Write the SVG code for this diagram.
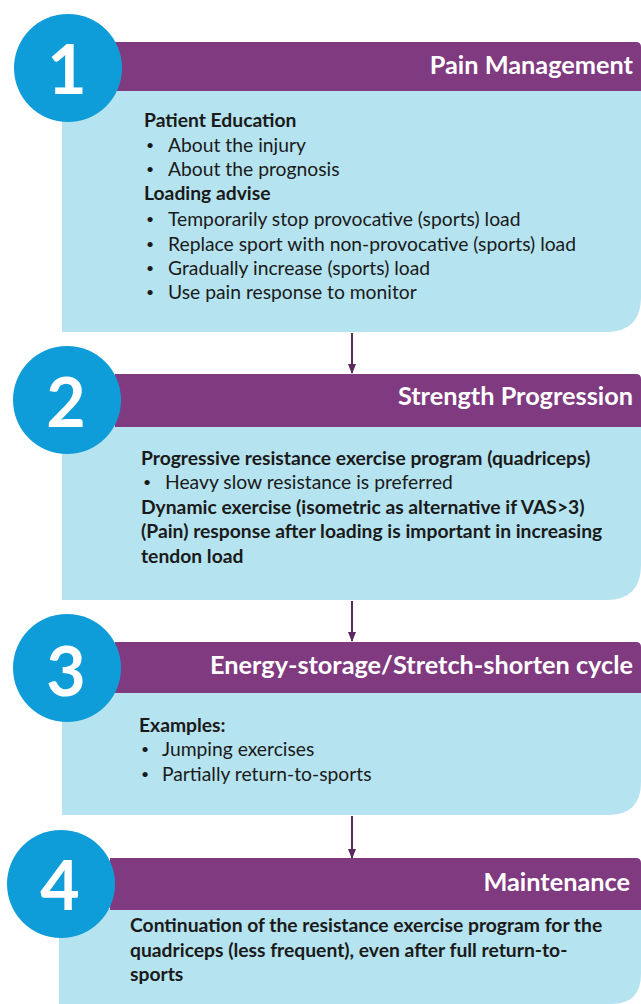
<svg xmlns="http://www.w3.org/2000/svg" width="641" height="1004" viewBox="0 0 641 1004">
<defs>
<style>
.bar{fill:#803A80}
.box{fill:#B5E3EF}
.circ{fill:#0F9DD9}
.num{font-family:Lato,"Open Sans",sans-serif;font-weight:bold;font-size:68px;fill:#fff;text-anchor:middle}
.ttl{font-family:Lato,"Open Sans",sans-serif;font-weight:bold;font-size:25.3px;fill:#fff;text-anchor:end}
.t{font-family:Lato,"Open Sans",sans-serif;font-size:19.3px;fill:#1a1a1a}
.b{font-family:Lato,"Open Sans",sans-serif;font-size:19.3px;fill:#1a1a1a;font-weight:bold}
.d{font-family:Lato,"Open Sans",sans-serif;font-size:14px;fill:#1a1a1a}
.con{stroke:#5A2A5C;stroke-width:2;fill:none;marker-end:url(#ah)}
</style>
<marker id="ah" viewBox="0 0 10 10" refX="9" refY="5" markerWidth="5" markerHeight="5" orient="auto">
<path d="M0,1 L10,5 L0,9 z" fill="#5A2A5C"/>
</marker>
</defs>
<rect width="641" height="1004" fill="#fff"/>

<g id="connectors">
<line class="con" x1="352" y1="333" x2="352" y2="373"/>
<line class="con" x1="352" y1="601" x2="352" y2="641"/>
<line class="con" x1="352" y1="816" x2="352" y2="858"/>
</g>

<g id="step1">
<path class="box" d="M62,90 H641 V297 Q641,332 606,332 H62 Z"/>
<path class="bar" d="M115,42 H636 Q641,42 641,47 V91 H115 Z"/>
<circle class="circ" cx="68" cy="68" r="54"/>
<text class="num" x="67" y="94">1</text>
<text class="ttl" x="633" y="74">Pain Management</text>
<text class="b" x="144" y="127">Patient Education</text>
<text class="d" x="146" y="150">•</text><text class="t" x="168" y="152">About the injury</text>
<text class="d" x="146" y="174">•</text><text class="t" x="168" y="176">About the prognosis</text>
<text class="b" x="144" y="200">Loading advise</text>
<text class="d" x="146" y="224">•</text><text class="t" x="168" y="226">Temporarily stop provocative (sports) load</text>
<text class="d" x="146" y="249">•</text><text class="t" x="168" y="251">Replace sport with non-provocative (sports) load</text>
<text class="d" x="146" y="273">•</text><text class="t" x="168" y="275">Gradually increase (sports) load</text>
<text class="d" x="146" y="297">•</text><text class="t" x="168" y="299">Use pain response to monitor</text>
</g>

<g id="step2">
<path class="box" d="M62,426 H641 V565 Q641,600 606,600 H62 Z"/>
<path class="bar" d="M115,374 H636 Q641,374 641,379 V427 H115 Z"/>
<circle class="circ" cx="67" cy="400" r="54"/>
<text class="num" x="66" y="427">2</text>
<text class="ttl" x="633" y="405">Strength Progression</text>
<text class="b" x="141" y="465">Progressive resistance exercise program (quadriceps)</text>
<text class="d" x="143" y="487">•</text><text class="t" x="165" y="489">Heavy slow resistance is preferred</text>
<text class="b" x="141" y="514">Dynamic exercise (isometric as alternative if VAS&gt;3)</text>
<text class="b" x="141" y="538">(Pain) response after loading is important in increasing</text>
<text class="b" x="141" y="563">tendon load</text>
</g>

<g id="step3">
<path class="box" d="M62,692 H641 V782 Q641,815 608,815 H62 Z"/>
<path class="bar" d="M115,642 H636 Q641,642 641,647 V693 H115 Z"/>
<circle class="circ" cx="67" cy="668" r="54"/>
<text class="num" x="66" y="696">3</text>
<text class="ttl" x="633" y="674">Energy-storage/Stretch-shorten cycle</text>
<text class="b" x="139" y="732">Examples:</text>
<text class="d" x="141" y="754">•</text><text class="t" x="162" y="756">Jumping exercises</text>
<text class="d" x="141" y="779">•</text><text class="t" x="162" y="781">Partially return-to-sports</text>
</g>

<g id="step4">
<path class="box" d="M59,909 H641 V974 Q641,1004 611,1004 H59 Z"/>
<path class="bar" d="M110,858 H636 Q641,858 641,863 V910 H110 Z"/>
<circle class="circ" cx="61" cy="884" r="54"/>
<text class="num" x="60" y="910">4</text>
<text class="ttl" x="630" y="891">Maintenance</text>
<text class="b" x="130" y="932">Continuation of the resistance exercise program for the</text>
<text class="b" x="130" y="957">quadriceps (less frequent), even after full return-to-</text>
<text class="b" x="130" y="981">sports</text>
</g>
</svg>
